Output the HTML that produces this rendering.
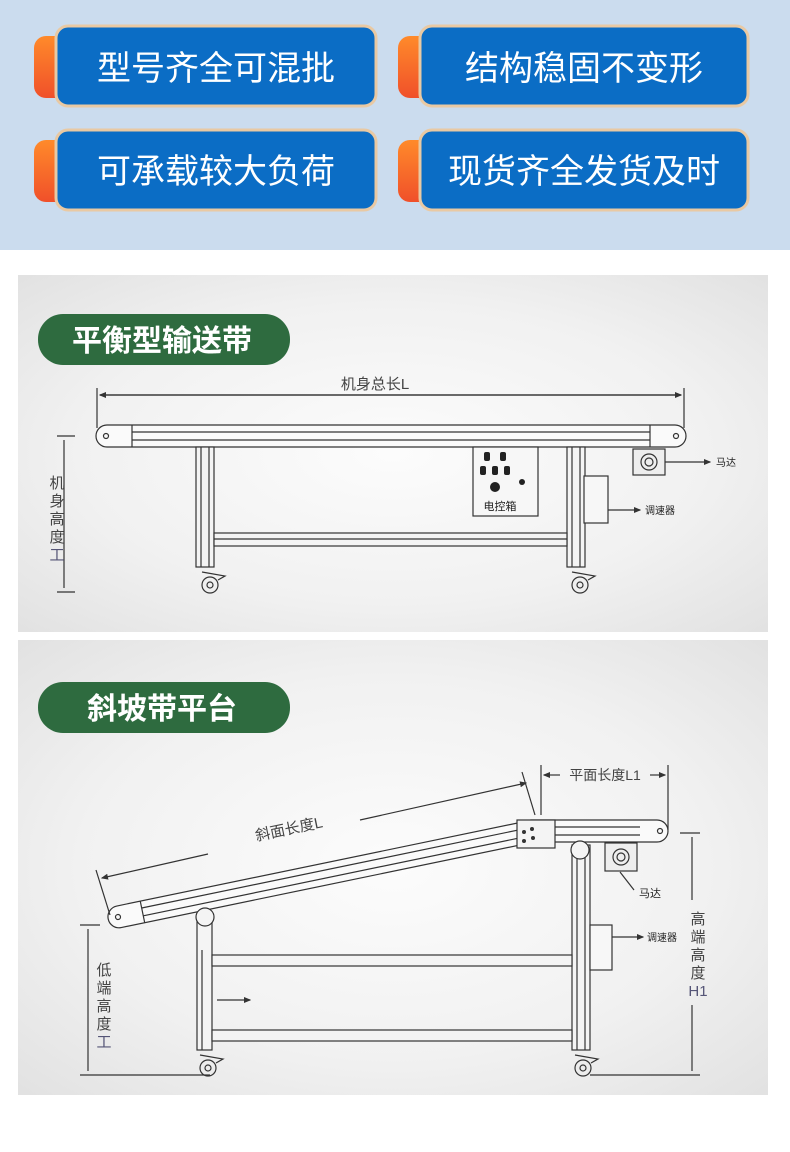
<!DOCTYPE html>
<html><head><meta charset="utf-8"><style>
body{margin:0;width:790px;height:1147px;background:#fff;overflow:hidden;font-family:"Liberation Sans","Noto Sans CJK SC",sans-serif}
</style></head><body>
<svg width="790" height="1147" viewBox="0 0 790 1147" xmlns="http://www.w3.org/2000/svg" font-family="Liberation Sans, Noto Sans CJK SC, sans-serif">
<defs>
<radialGradient id="pg" cx="50%" cy="50%" r="70%"><stop offset="0" stop-color="#fcfcfc"/><stop offset="0.6" stop-color="#f1f1f1"/><stop offset="1" stop-color="#e2e2e2"/></radialGradient>
<linearGradient id="og" x1="0" y1="0" x2="0" y2="1"><stop offset="0" stop-color="#ff8a2a"/><stop offset="1" stop-color="#f0502a"/></linearGradient>
<marker id="ar" markerWidth="6" markerHeight="6" refX="5" refY="3" orient="auto"><path d="M0,0.5 L6,3 L0,5.5z" fill="#333"/></marker>
</defs>
<rect width="790" height="250" fill="#cbdcee"/>
<g>
<rect x="34" y="36" width="40" height="62" rx="12" fill="url(#og)"/>
<rect x="56" y="26" width="320" height="80" rx="12" fill="#0b6dc5" stroke="#e9c9a3" stroke-width="3"/>
<text x="216" y="80" fill="#fff" font-size="34" text-anchor="middle">型号齐全可混批</text>
<rect x="398" y="36" width="40" height="62" rx="12" fill="url(#og)"/>
<rect x="420" y="26" width="328" height="80" rx="12" fill="#0b6dc5" stroke="#e9c9a3" stroke-width="3"/>
<text x="584" y="80" fill="#fff" font-size="34" text-anchor="middle">结构稳固不变形</text>
<rect x="34" y="140" width="40" height="62" rx="12" fill="url(#og)"/>
<rect x="56" y="130" width="320" height="80" rx="12" fill="#0b6dc5" stroke="#e9c9a3" stroke-width="3"/>
<text x="216" y="183" fill="#fff" font-size="34" text-anchor="middle">可承载较大负荷</text>
<rect x="398" y="140" width="40" height="62" rx="12" fill="url(#og)"/>
<rect x="420" y="130" width="328" height="80" rx="12" fill="#0b6dc5" stroke="#e9c9a3" stroke-width="3"/>
<text x="584" y="183" fill="#fff" font-size="34" text-anchor="middle">现货齐全发货及时</text>
</g>
<rect x="18" y="275" width="750" height="357" fill="url(#pg)"/>
<rect x="38" y="314" width="252" height="51" rx="25" fill="#2e6b3f"/>
<text x="162" y="351" fill="#fff" font-size="30" font-weight="bold" text-anchor="middle">平衡型输送带</text>
<g stroke="#333" fill="none" stroke-width="1.2">
<line x1="97" y1="388" x2="97" y2="428"/><line x1="684" y1="388" x2="684" y2="428"/>
<line x1="100" y1="395" x2="681" y2="395" marker-end="url(#ar)"/>
<line x1="681" y1="395" x2="100" y2="395" marker-end="url(#ar)"/>
<rect x="96" y="425" width="590" height="22" rx="11" fill="#fafafa"/>
<line x1="132" y1="432" x2="650" y2="432"/><line x1="132" y1="440" x2="650" y2="440"/>
<line x1="132" y1="425" x2="132" y2="447"/><line x1="650" y1="425" x2="650" y2="447"/>
<circle cx="106" cy="436" r="2.5"/><circle cx="676" cy="436" r="2.5"/>
<rect x="196" y="447" width="18" height="120" fill="#f4f4f4"/><line x1="201" y1="447" x2="201" y2="567"/><line x1="209" y1="447" x2="209" y2="567"/>
<rect x="567" y="447" width="18" height="120" fill="#f4f4f4"/><line x1="572" y1="447" x2="572" y2="567"/><line x1="580" y1="447" x2="580" y2="567"/>
<rect x="214" y="533" width="353" height="13" fill="#f4f4f4"/><line x1="214" y1="539" x2="567" y2="539"/>
<circle cx="210" cy="585" r="8"/><circle cx="210" cy="585" r="3"/><path d="M202,572 L225,576 L218,580"/>
<circle cx="580" cy="585" r="8"/><circle cx="580" cy="585" r="3"/><path d="M572,572 L595,576 L588,580"/>
<rect x="473" y="447" width="65" height="69" fill="#f7f7f7"/>
<rect x="584" y="476" width="24" height="47" fill="#f7f7f7"/>
<rect x="633" y="449" width="32" height="26" fill="#eee"/><circle cx="649" cy="462" r="8"/><circle cx="649" cy="462" r="4"/>
<line x1="665" y1="462" x2="710" y2="462" marker-end="url(#ar)"/>
<line x1="608" y1="510" x2="640" y2="510" marker-end="url(#ar)"/>
<line x1="57" y1="436" x2="75" y2="436"/><line x1="57" y1="592" x2="75" y2="592"/>
<line x1="64" y1="440" x2="64" y2="588"/>
</g>
<g fill="#222"><rect x="484" y="452" width="6" height="9" rx="2"/><rect x="500" y="452" width="6" height="9" rx="2"/><rect x="480" y="466" width="6" height="9" rx="2"/><rect x="492" y="466" width="6" height="9" rx="2"/><rect x="504" y="466" width="6" height="9" rx="2"/><circle cx="495" cy="487" r="5"/><circle cx="522" cy="482" r="3"/></g>
<text x="375" y="389" font-size="15" fill="#444" text-anchor="middle">机身总长L</text>
<text x="500" y="510" font-size="11" fill="#222" text-anchor="middle">电控箱</text>
<text x="716" y="466" font-size="10" fill="#222">马达</text>
<text x="645" y="514" font-size="10" fill="#222">调速器</text>
<text x="57" y="488" font-size="15" fill="#444" text-anchor="middle">机</text>
<text x="57" y="506" font-size="15" fill="#444" text-anchor="middle">身</text>
<text x="57" y="524" font-size="15" fill="#444" text-anchor="middle">高</text>
<text x="57" y="542" font-size="15" fill="#444" text-anchor="middle">度</text>
<text x="57" y="560" font-size="15" fill="#557" text-anchor="middle">工</text>
<rect x="18" y="640" width="750" height="455" fill="url(#pg)"/>
<rect x="38" y="682" width="252" height="51" rx="25" fill="#2e6b3f"/>
<text x="162" y="719" fill="#fff" font-size="30" font-weight="bold" text-anchor="middle">斜坡带平台</text>
<g stroke="#333" fill="none" stroke-width="1.2">
<g transform="translate(118,917) rotate(-11.7)">
<rect x="-10" y="-11" width="440" height="22" rx="11" fill="#fafafa"/>
<line x1="25" y1="-4" x2="420" y2="-4"/><line x1="25" y1="4" x2="420" y2="4"/><line x1="25" y1="-11" x2="25" y2="11"/>
<circle cx="0" cy="0" r="2.5"/>
</g>
<rect x="520" y="820" width="148" height="22" rx="11" fill="#fafafa"/>
<line x1="555" y1="827" x2="640" y2="827"/><line x1="555" y1="835" x2="640" y2="835"/>
<rect x="517" y="820" width="38" height="28" fill="#f4f4f4"/><circle cx="660" cy="831" r="2.5"/>
<rect x="197" y="915" width="15" height="135" fill="#f4f4f4"/><line x1="202" y1="950" x2="202" y2="1050"/>
<rect x="572" y="845" width="18" height="205" fill="#f4f4f4"/><line x1="577" y1="845" x2="577" y2="1050"/><line x1="585" y1="845" x2="585" y2="1050"/>
<circle cx="205" cy="917" r="9" fill="#f4f4f4"/><circle cx="580" cy="850" r="9" fill="#f4f4f4"/>
<rect x="212" y="955" width="360" height="11" fill="#f4f4f4"/><rect x="212" y="1030" width="360" height="11" fill="#f4f4f4"/>
<circle cx="208" cy="1068" r="8"/><circle cx="208" cy="1068" r="3"/><path d="M200,1055 L223,1059 L216,1063"/>
<circle cx="583" cy="1068" r="8"/><circle cx="583" cy="1068" r="3"/><path d="M575,1055 L598,1059 L591,1063"/>
<rect x="590" y="925" width="22" height="45" fill="#f7f7f7"/>
<rect x="605" y="843" width="32" height="28" fill="#eee"/><circle cx="621" cy="857" r="8"/><circle cx="621" cy="857" r="4"/>
<line x1="620" y1="872" x2="634" y2="890"/>
<line x1="612" y1="937" x2="643" y2="937" marker-end="url(#ar)"/>
<line x1="217" y1="1000" x2="250" y2="1000" marker-end="url(#ar)"/>
<line x1="208" y1="854" x2="102" y2="878" marker-end="url(#ar)"/>
<line x1="360" y1="820" x2="526" y2="783" marker-end="url(#ar)"/>
<line x1="96" y1="870" x2="110" y2="915"/><line x1="522" y1="772" x2="535" y2="815"/>
<line x1="541" y1="765" x2="541" y2="815"/><line x1="668" y1="765" x2="668" y2="830"/>
<line x1="560" y1="775" x2="544" y2="775" marker-end="url(#ar)"/><line x1="650" y1="775" x2="665" y2="775" marker-end="url(#ar)"/>
<line x1="80" y1="925" x2="100" y2="925"/><line x1="80" y1="1075" x2="210" y2="1075"/>
<line x1="88" y1="929" x2="88" y2="1071"/>
<line x1="680" y1="833" x2="700" y2="833"/><line x1="590" y1="1075" x2="700" y2="1075"/>
<line x1="692" y1="837" x2="692" y2="900"/><line x1="692" y1="1005" x2="692" y2="1071"/>
</g>
<g fill="#333"><circle cx="524" cy="832" r="2"/><circle cx="524" cy="841" r="2"/><circle cx="532" cy="829" r="2"/><circle cx="533" cy="838" r="2"/></g>
<text x="0" y="0" font-size="15" fill="#444" text-anchor="middle" transform="translate(290,834) rotate(-11.7)">斜面长度L</text>
<text x="605" y="780" font-size="14" fill="#444" text-anchor="middle">平面长度L1</text>
<text x="639" y="897" font-size="11" fill="#222">马达</text>
<text x="647" y="941" font-size="10" fill="#222">调速器</text>
<g font-size="15" fill="#444" text-anchor="middle">
<text x="104" y="975">低</text><text x="104" y="993">端</text><text x="104" y="1011">高</text><text x="104" y="1029">度</text><text x="104" y="1047" fill="#557">工</text>
<text x="698" y="924">高</text><text x="698" y="942">端</text><text x="698" y="960">高</text><text x="698" y="978">度</text><text x="698" y="996" fill="#557">H1</text>
</g>
</svg>
</body></html>
